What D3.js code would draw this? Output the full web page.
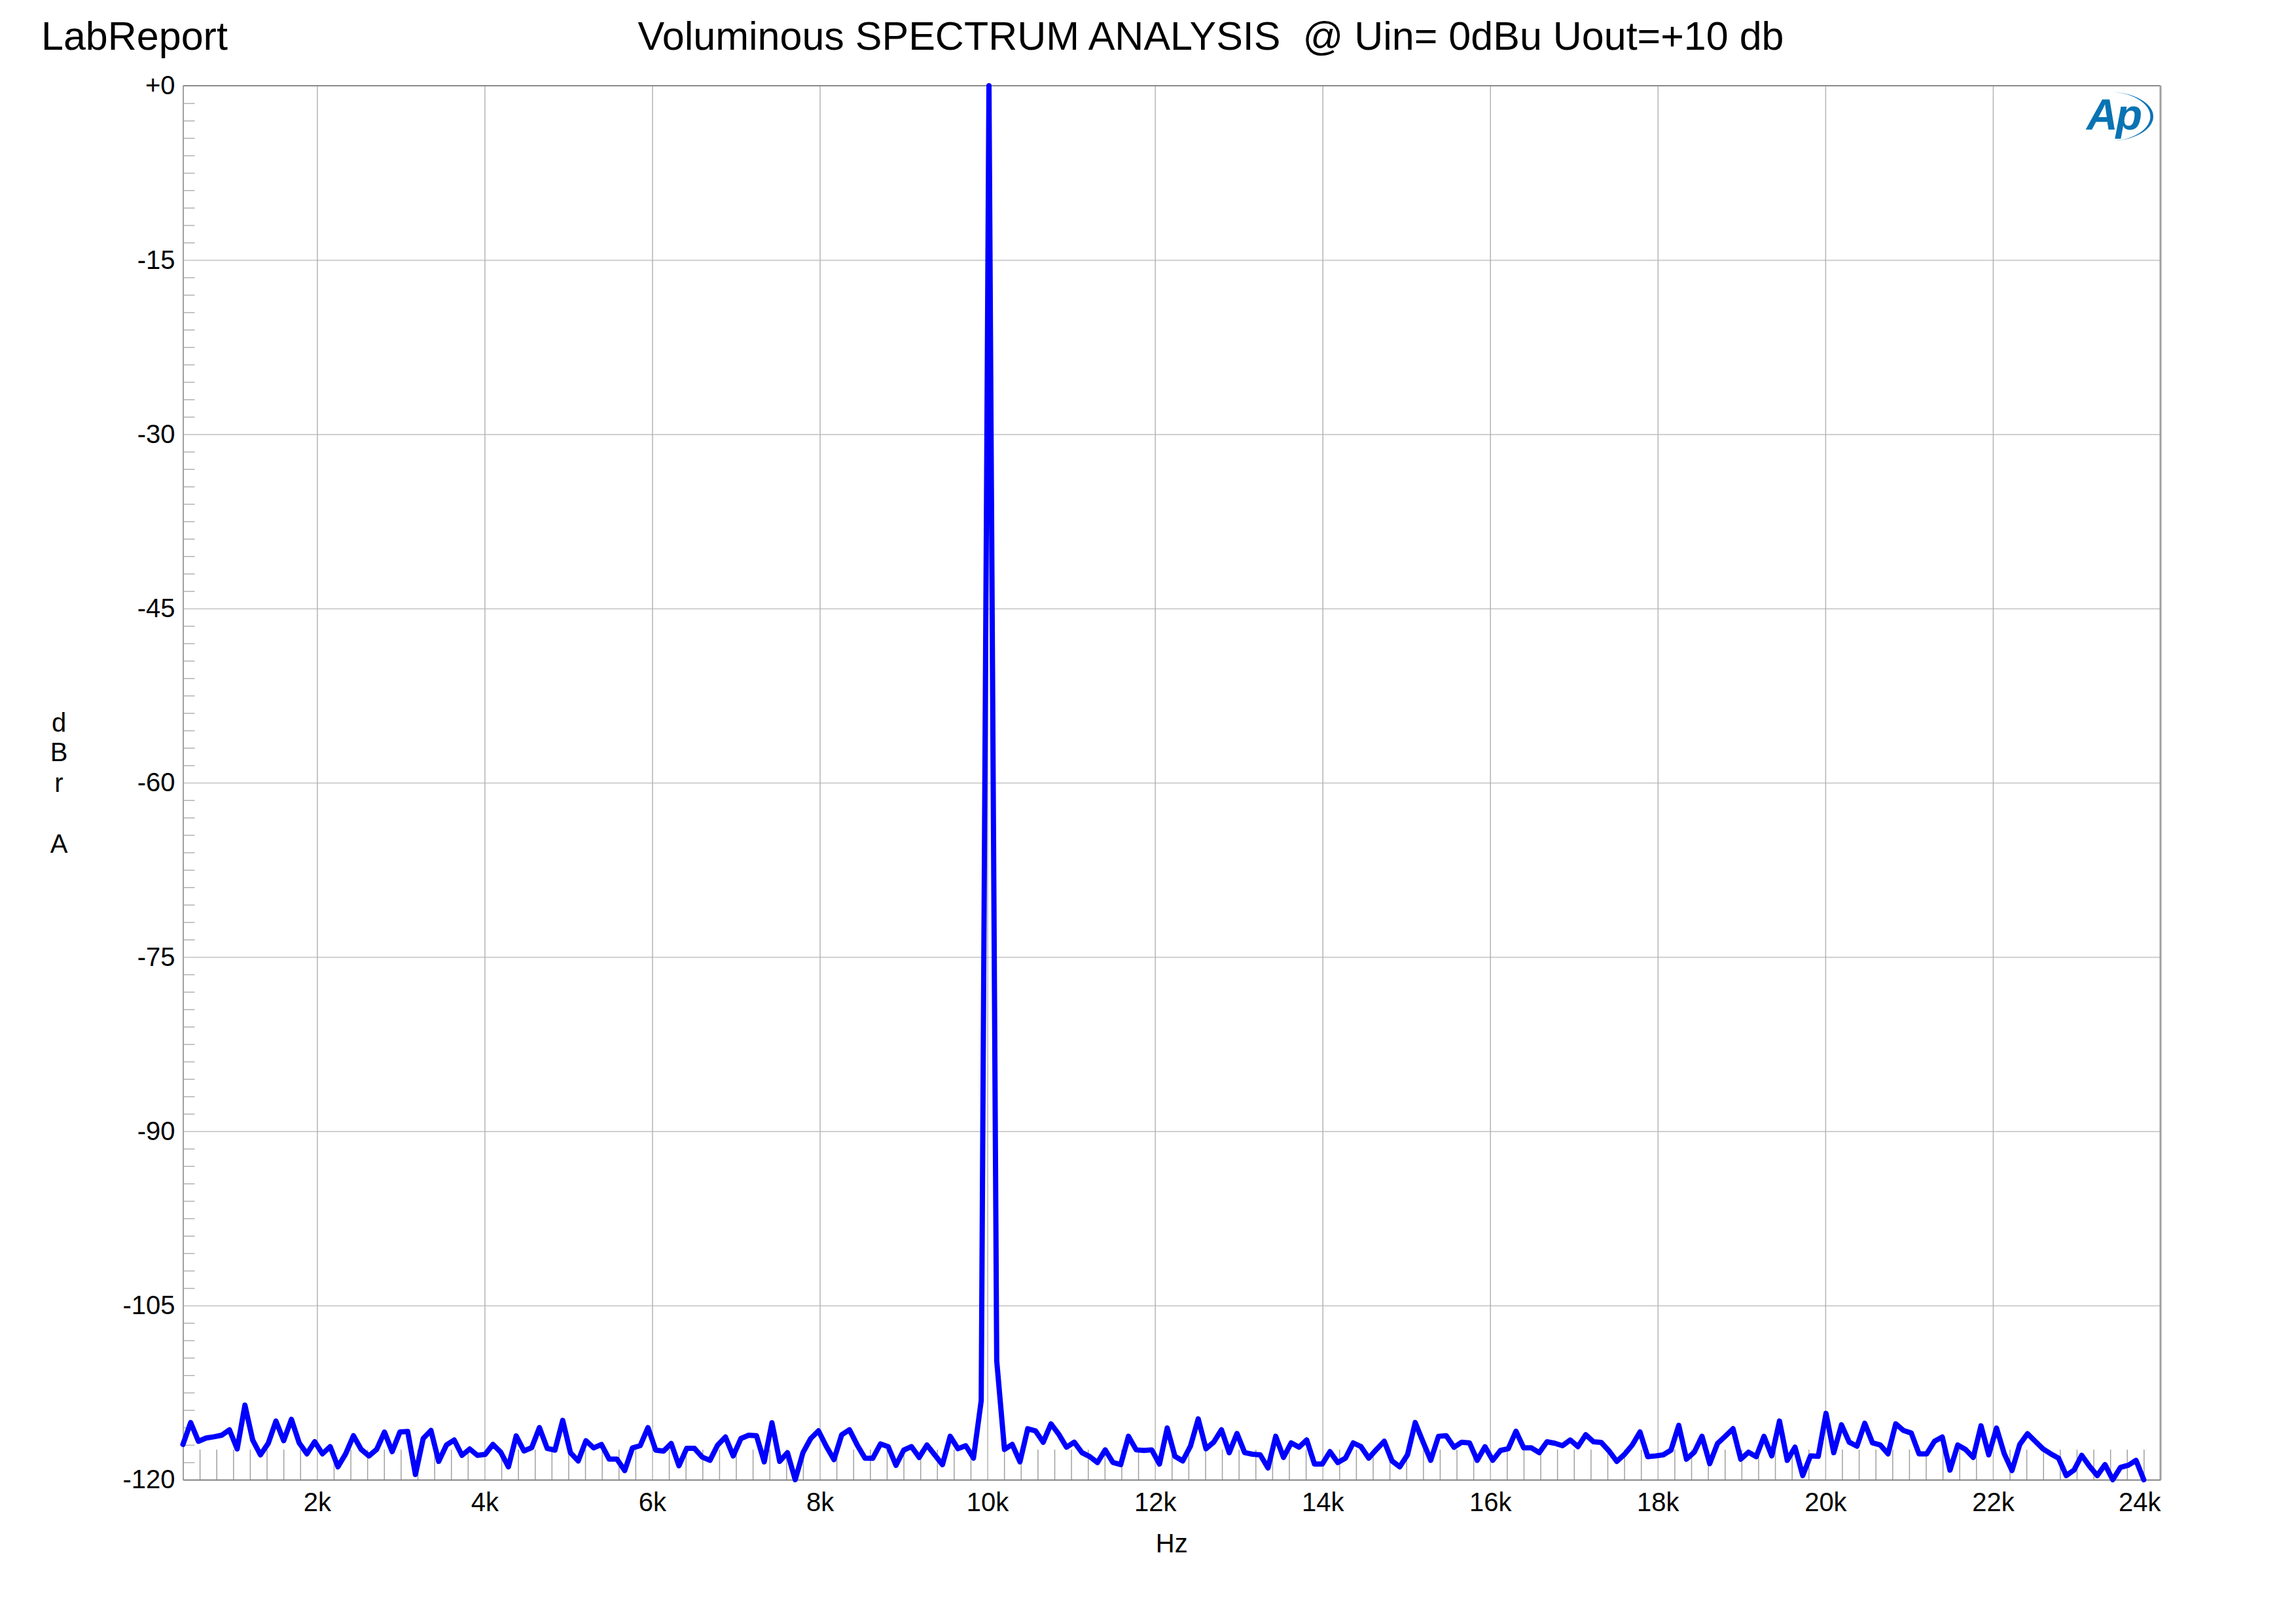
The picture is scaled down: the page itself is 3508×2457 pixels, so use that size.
<!DOCTYPE html>
<html><head><meta charset="utf-8">
<script src="https://cdn.jsdelivr.net/npm/d3@7"></script>
<style>
html,body{margin:0;padding:0;background:#fff;}
svg{display:block;}
text{font-family:"Liberation Sans", Arial, sans-serif;}
</style>
</head><body>
<svg id="chart" width="3508" height="2457"></svg>
<script>
// ---------- data ----------
const brandText = "LabReport";
const titleText = "Voluminous SPECTRUM ANALYSIS  @ Uin= 0dBu Uout=+10 db";
const xAxisTitle = "Hz";
const yAxisTitleLetters = ["d", "B", "r", "", "A"];

const xTicks = [2000, 4000, 6000, 8000, 10000, 12000, 14000, 16000, 18000, 20000, 22000, 24000];
const xTickLabels = ["2k", "4k", "6k", "8k", "10k", "12k", "14k", "16k", "18k", "20k", "22k", "24k"];
const yTicks = [0, -15, -30, -45, -60, -75, -90, -105, -120];
const yTickLabels = ["+0", "-15", "-30", "-45", "-60", "-75", "-90", "-105", "-120"];

const xDomain = [400, 24000];
const yDomain = [-120, 0];

// FFT bin grid (start frequency and bin spacing)
const freqStart = 400;
const freqStep = 92.49;

// Level (dBr A) per bin
const levelDb = [
 -116.96,-115.08,-116.69,-116.41,-116.30,-116.17,-115.70,-117.35,-113.58,-116.58,
 -117.86,-116.88,-114.95,-116.64,-114.80,-116.83,-117.77,-116.73,-117.77,-117.15,
 -118.89,-117.77,-116.21,-117.39,-117.95,-117.39,-115.89,-117.58,-115.89,-115.85,
 -119.55,-116.45,-115.76,-118.42,-117.01,-116.58,-117.90,-117.35,-117.90,-117.82,
 -116.96,-117.63,-118.89,-116.23,-117.52,-117.24,-115.51,-117.30,-117.45,-114.89,
 -117.67,-118.38,-116.64,-117.26,-116.96,-118.23,-118.23,-119.21,-117.26,-117.07,
 -115.51,-117.45,-117.54,-116.88,-118.80,-117.30,-117.30,-118.05,-118.33,-117.01,
 -116.32,-117.95,-116.45,-116.17,-116.21,-118.46,-115.10,-118.42,-117.67,-120.00,
 -117.67,-116.45,-115.79,-117.11,-118.27,-116.13,-115.70,-117.01,-118.14,-118.16,
 -116.92,-117.15,-118.76,-117.45,-117.15,-118.08,-117.01,-117.86,-118.70,-116.26,
 -117.33,-117.07,-118.14,-113.20,   0.00,-109.75,-117.39,-116.96,-118.46,-115.61,
 -115.79,-116.77,-115.19,-116.08,-117.20,-116.77,-117.67,-118.01,-118.52,-117.43,
 -118.52,-118.70,-116.26,-117.43,-117.48,-117.43,-118.65,-115.55,-117.99,-118.38,
 -117.11,-114.76,-117.33,-116.77,-115.70,-117.67,-116.02,-117.67,-117.80,-117.86,
 -118.99,-116.26,-118.08,-116.83,-117.20,-116.58,-118.65,-118.65,-117.58,-118.52,
 -118.14,-116.83,-117.15,-118.14,-117.39,-116.69,-118.38,-118.89,-117.86,-115.08,
 -116.73,-118.33,-116.26,-116.21,-117.20,-116.77,-116.83,-118.33,-117.16,-118.33,
 -117.48,-117.33,-115.83,-117.26,-117.26,-117.67,-116.73,-116.86,-117.07,-116.58,
 -117.15,-116.13,-116.73,-116.79,-117.52,-118.42,-117.82,-117.01,-115.89,-118.01,
 -117.95,-117.86,-117.45,-115.32,-118.23,-117.63,-116.26,-118.61,-116.88,-116.26,
 -115.61,-118.23,-117.63,-118.01,-116.26,-117.95,-114.95,-118.33,-117.20,-119.64,
 -117.95,-117.99,-114.29,-117.67,-115.27,-116.77,-117.11,-115.14,-116.83,-117.01,
 -117.77,-115.19,-115.76,-115.98,-117.77,-117.77,-116.69,-116.32,-119.17,-117.01,
 -117.39,-118.08,-115.36,-117.86,-115.55,-117.77,-119.21,-116.96,-116.04,-116.69,
 -117.35,-117.77,-118.14,-119.64,-119.17,-117.90,-118.84,-119.64,-118.70,-120.00,
 -118.93,-118.76,-118.33,-120.00
];

// ---------- layout ----------
const W = 3508, H = 2457;
const plotL = 279.5, plotR = 3301, plotT = 131, plotB = 2261;

const svg = d3.select("#chart");
svg.append("rect").attr("width", W).attr("height", H).attr("fill", "#fff");

const x = d3.scaleLinear().domain(xDomain).range([plotL, plotR]);
const y = d3.scaleLinear().domain(yDomain).range([plotB, plotT]);

const pts = levelDb.map((v, i) => ({ f: freqStart + i * freqStep, v }));

// horizontal gridlines
svg.append("g")
  .attr("transform", `translate(${plotL},0)`)
  .call(d3.axisLeft(y).tickValues(yTicks.filter(t => t !== 0 && t !== -120)).tickSize(-(plotR - plotL)).tickFormat(""))
  .call(g => g.select(".domain").remove())
  .call(g => g.selectAll("line").attr("stroke", "#cfcfcf").attr("stroke-width", 2));

// vertical gridlines
svg.append("g")
  .attr("transform", `translate(0,${plotB})`)
  .call(d3.axisBottom(x).tickValues(xTicks.filter(t => t < 24000)).tickSize(-(plotB - plotT)).tickFormat(""))
  .call(g => g.select(".domain").remove())
  .call(g => g.selectAll("line").attr("stroke", "#b4b4b4").attr("stroke-width", 1.5));

// y minor ticks (every 1.5 dB)
const yMinor = d3.range(0, 81).map(i => -i * 1.5).filter(v => Math.abs(v % 15) > 0.01);
svg.append("g")
  .attr("transform", `translate(${plotL},0)`)
  .call(d3.axisRight(y).tickValues(yMinor).tickSize(18).tickFormat(""))
  .call(g => g.select(".domain").remove())
  .call(g => g.selectAll("line").attr("stroke", "#b0b0b0").attr("stroke-width", 1.5));

// x minor ticks (every 200 Hz)
const xMinor = d3.range(600, 24000, 200).filter(v => v % 2000 !== 0);
svg.append("g")
  .attr("transform", `translate(0,${plotB})`)
  .call(d3.axisTop(x).tickValues(xMinor).tickSize(46).tickFormat(""))
  .call(g => g.select(".domain").remove())
  .call(g => g.selectAll("line").attr("stroke", "#a0a0a0").attr("stroke-width", 1.5));

// frame
svg.append("line").attr("x1", plotL).attr("x2", plotR).attr("y1", plotT).attr("y2", plotT)
  .attr("stroke", "#8a8a8a").attr("stroke-width", 2);
svg.append("line").attr("x1", plotR).attr("x2", plotR).attr("y1", plotT).attr("y2", plotB)
  .attr("stroke", "#a0a0a0").attr("stroke-width", 3);

// y axis with labels
const yAxisG = svg.append("g")
  .attr("transform", `translate(${plotL},0)`)
  .call(d3.axisLeft(y).tickValues(yTicks).tickSize(0).tickPadding(12)
        .tickFormat(d => yTickLabels[yTicks.indexOf(d)]));
yAxisG.select(".domain").attr("stroke", "#a0a0a0").attr("stroke-width", 2);
yAxisG.selectAll("text").attr("font-size", 40).attr("fill", "#000")
  .attr("font-family", "Liberation Sans, Arial, sans-serif");

// x axis with labels
const xAxisG = svg.append("g")
  .attr("transform", `translate(0,${plotB})`)
  .call(d3.axisBottom(x).tickValues(xTicks).tickSize(0).tickPadding(20)
        .tickFormat(d => xTickLabels[xTicks.indexOf(d)]));
xAxisG.select(".domain").attr("stroke", "#808080").attr("stroke-width", 2);
xAxisG.selectAll("text").attr("font-size", 40).attr("fill", "#000")
  .attr("font-family", "Liberation Sans, Arial, sans-serif");
xAxisG.selectAll(".tick").filter(d => d === 24000).select("text").attr("text-anchor", "end");

// data line
const line = d3.line().x(d => x(d.f)).y(d => y(d.v));
svg.append("path").datum(pts)
  .attr("d", line)
  .attr("fill", "none")
  .attr("stroke", "#0000ff")
  .attr("stroke-width", 8)
  .attr("stroke-linejoin", "round")
  .attr("stroke-linecap", "round");

// titles
svg.append("text").attr("x", 63).attr("y", 76).attr("font-size", 61).text(brandText);
svg.append("text").attr("x", 1850).attr("y", 76).attr("font-size", 61)
  .attr("text-anchor", "middle").style("white-space", "pre").text(titleText);
svg.append("text").attr("x", (plotL + plotR) / 2).attr("y", 2372).attr("font-size", 40)
  .attr("text-anchor", "middle").text(xAxisTitle);
const yTitleBaselines = [1118, 1163, 1210, 1256, 1303];
yAxisTitleLetters.forEach((ch, i) => {
  if (!ch) return;
  svg.append("text").attr("x", 90).attr("y", yTitleBaselines[i]).attr("font-size", 40)
    .attr("text-anchor", "middle").text(ch);
});

// AP logo
const logo = svg.append("g");
logo.append("text").attr("x", 3188).attr("y", 198).attr("font-size", 66)
  .attr("font-weight", "bold").attr("font-style", "italic").attr("fill", "#0a73b3")
  .attr("letter-spacing", -3).text("Ap");
logo.append("path")
  .attr("d", "M3220,140 A70,38 0 0 1 3220,216 A62,36 0 0 0 3220,140 Z")
  .attr("fill", "#0a73b3");
</script>
</body></html>
